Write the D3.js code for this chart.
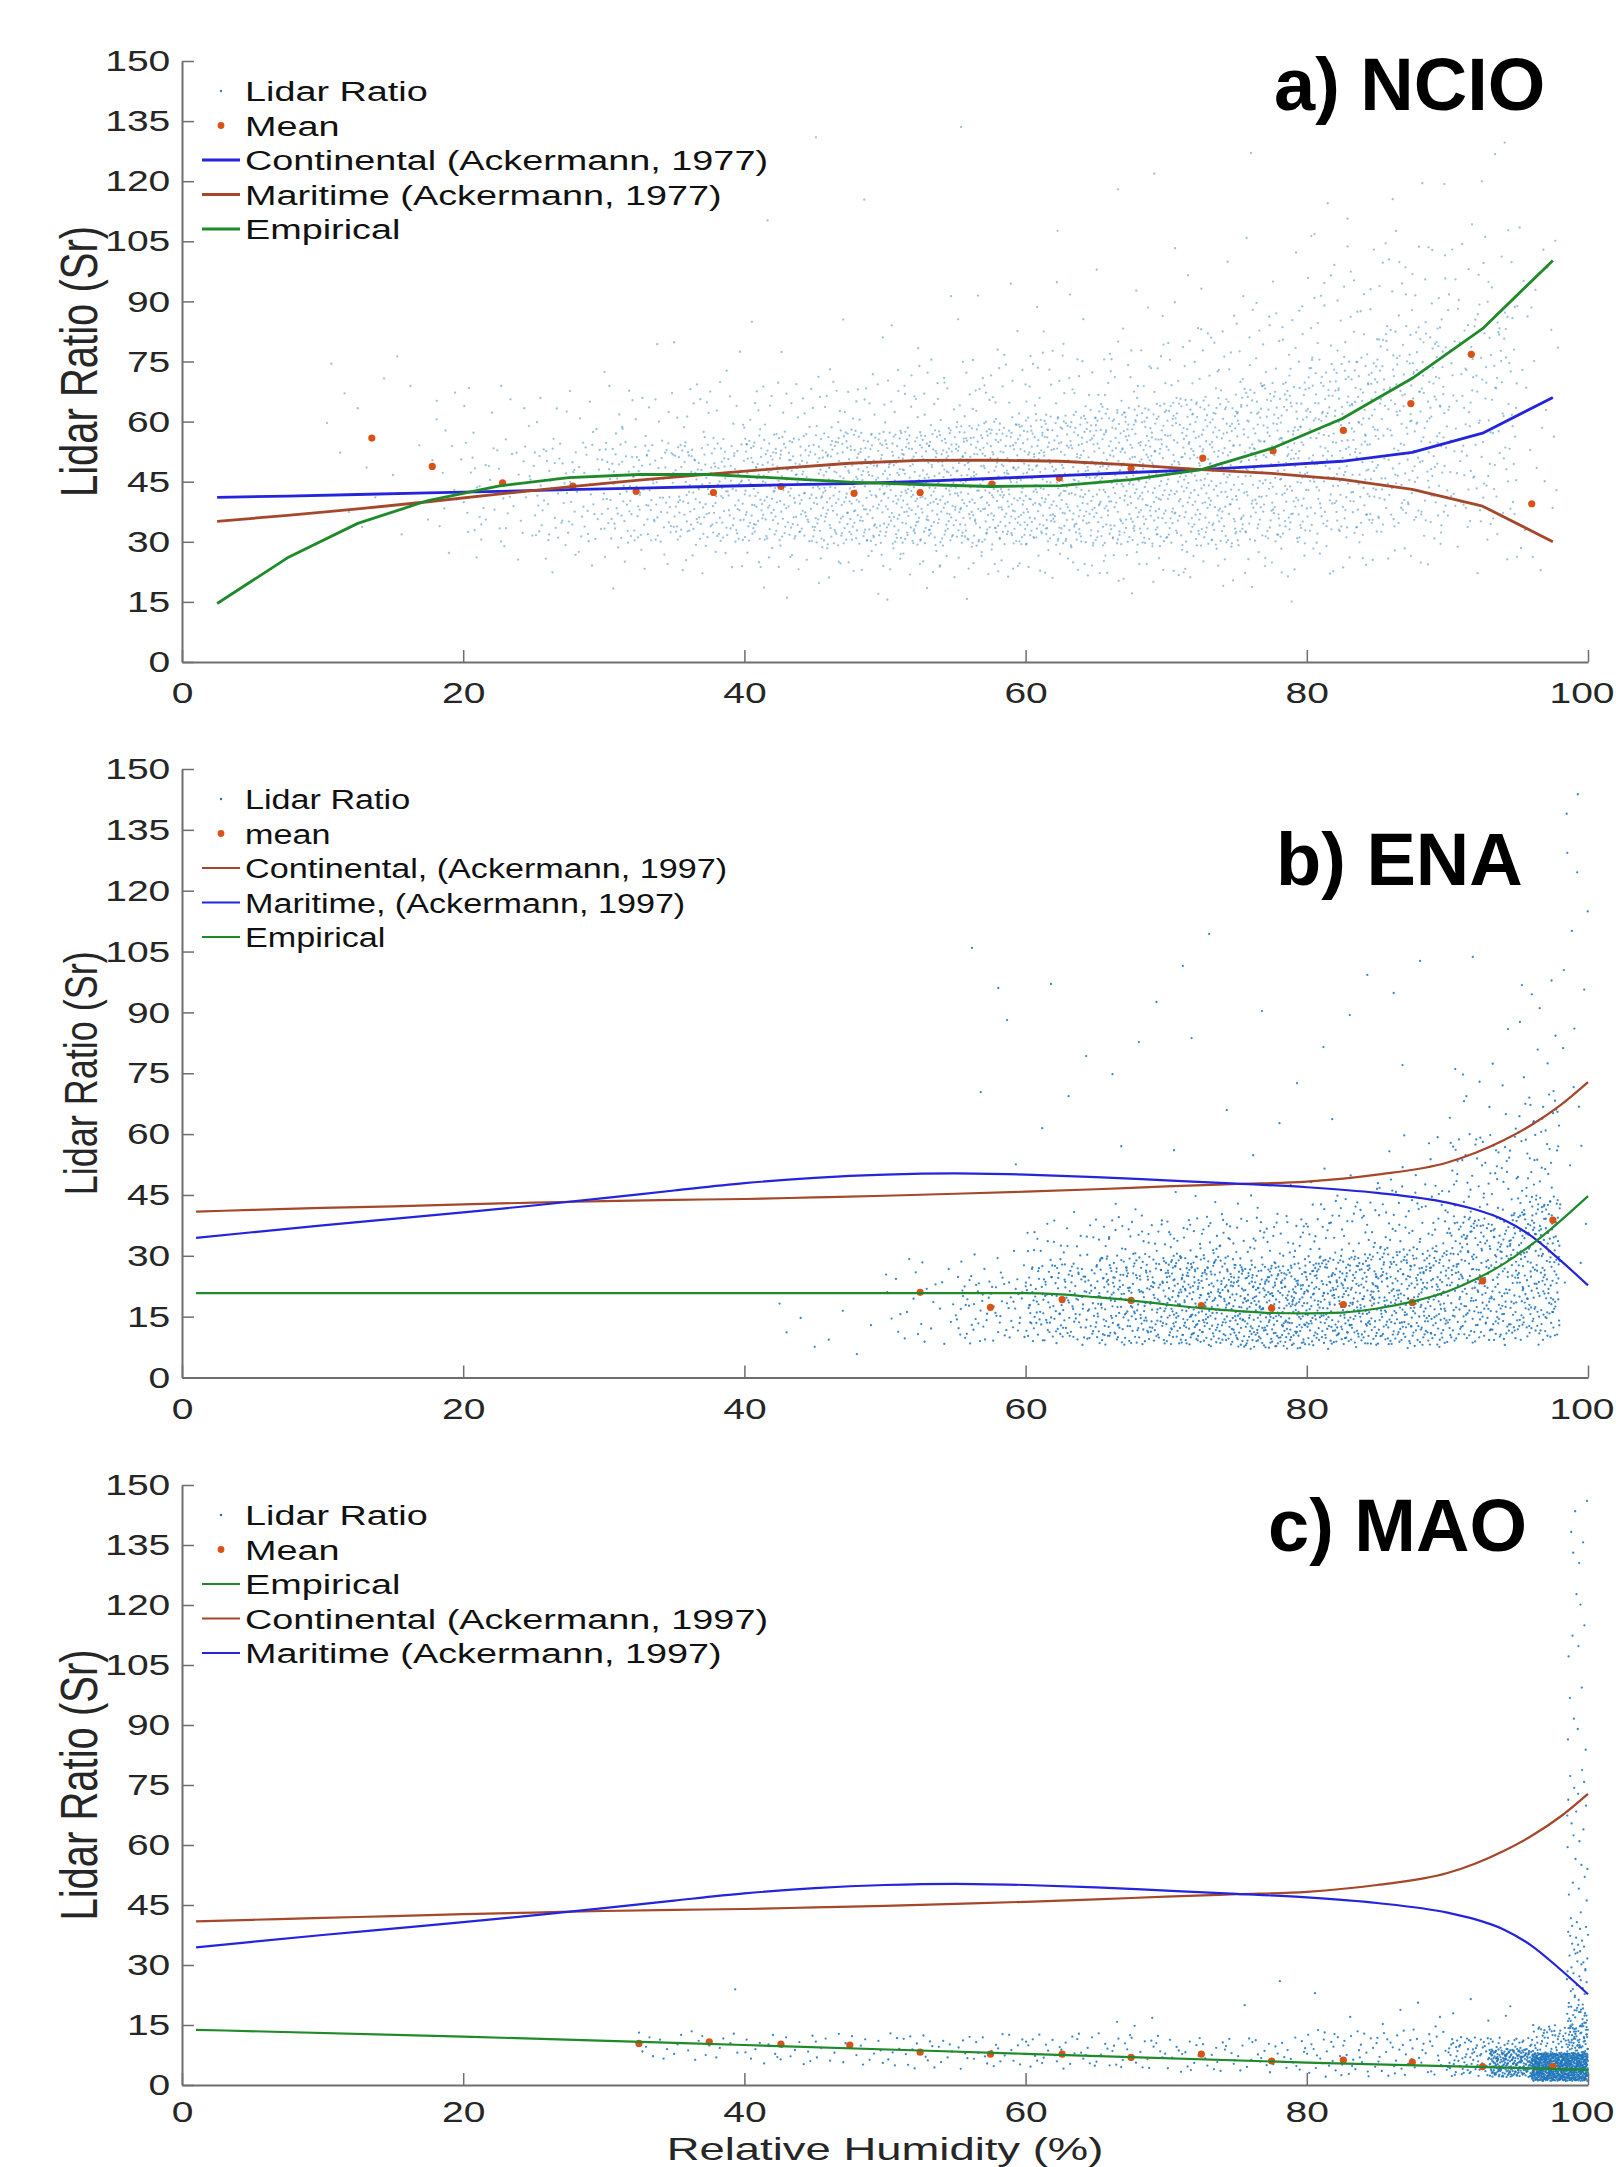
<!DOCTYPE html>
<html>
<head>
	<meta charset="utf-8" />
	<title>Lidar ratio vs relative humidity</title>
	<script src="https://d3js.org/d3.v7.min.js"></script>
	<style>
		body { margin: 0; background: #fff; }
		svg text { font-family: "Liberation Sans", Arial, Helvetica, sans-serif; }
	</style>
</head>
<body>
<svg id="chart"></svg>

<script>
/* axes */
var rhTicks = [0, 20, 40, 60, 80, 100];
var lrTicks = [0, 15, 30, 45, 60, 75, 90, 105, 120, 135, 150];

/* a) NCIO */
var ncioRh          = [2.5, 7.5, 12.5, 17.5, 22.5, 27.5, 32.5, 37.5, 42.5, 47.5, 52.5, 57.5, 62.5, 67.5, 72.5, 77.5, 82.5, 87.5, 92.5, 97.5];
var ncioContinental = [41.1, 41.4, 41.8, 42.2, 42.6, 43.0, 43.4, 43.8, 44.2, 44.5, 45.1, 45.8, 46.5, 47.3, 48.0, 49.0, 50.1, 52.3, 57.1, 66.0];
var ncioMaritime    = [35.1, 36.6, 38.2, 40.0, 41.9, 43.7, 45.4, 46.9, 48.3, 49.6, 50.3, 50.4, 50.1, 49.2, 48.0, 47.1, 45.6, 43.1, 38.9, 30.0];
var ncioEmpirical   = [14.6, 26.0, 34.6, 40.3, 43.9, 46.0, 46.8, 46.8, 45.9, 44.9, 44.3, 43.8, 44.0, 45.5, 48.0, 53.3, 60.7, 70.8, 83.2, 100.2];
var ncioMeanRh = [13.5, 17.8, 22.8, 27.8, 32.3, 37.8, 42.6, 47.8, 52.5, 57.6, 62.4, 67.5, 72.6, 77.6, 82.6, 87.4, 91.7, 96.0];
var ncioMean   = [55.9, 48.8, 44.7, 43.9, 42.6, 42.3, 43.8, 42.1, 42.3, 44.4, 45.9, 48.3, 50.9, 52.7, 57.8, 64.5, 76.8, 39.5];
// point cloud read as density bands: [rh from, rh to, lidar ratio from, to, number of points]
var ncioCloud = [
	[10, 20, 30, 80, 20], [18, 25, 25, 70, 35], [20, 25, 30, 55, 30],
	[25, 30, 30, 55, 60],  [25, 30, 22, 68, 35],
	[30, 35, 30, 55, 90],  [30, 35, 22, 70, 45],  [30, 35, 18, 80, 10],
	[35, 40, 30, 55, 120], [35, 40, 22, 70, 55],  [35, 40, 18, 82, 12],
	[40, 45, 30, 57, 150], [40, 45, 22, 70, 65],  [40, 45, 16, 85, 15],
	[45, 50, 29, 58, 180], [45, 50, 21, 72, 75],  [45, 50, 16, 88, 15],
	[50, 55, 29, 58, 200], [50, 55, 21, 74, 80],  [50, 55, 15, 92, 18],
	[55, 60, 29, 60, 210], [55, 60, 21, 76, 85],  [55, 60, 15, 95, 20],
	[60, 65, 29, 62, 210], [60, 65, 21, 78, 85],  [60, 65, 15, 98, 20],
	[65, 70, 29, 64, 210], [65, 70, 20, 80, 85],  [65, 70, 15, 100, 22],
	[70, 75, 29, 66, 200], [70, 75, 20, 84, 85],  [70, 75, 14, 105, 22],
	[75, 80, 30, 70, 190], [75, 80, 20, 90, 80],  [75, 80, 14, 112, 22],
	[80, 85, 32, 76, 170], [80, 85, 22, 98, 80],  [80, 85, 16, 120, 22],
	[85, 90, 34, 84, 150], [85, 90, 24, 105, 70], [85, 90, 18, 125, 20],
	[90, 95, 35, 90, 90],  [90, 95, 25, 110, 50], [90, 95, 20, 130, 15],
	[95, 98, 20, 110, 25], [40, 95, 100, 135, 12]
];
var ncioLegend = ["Lidar Ratio", "Mean", "Continental (Ackermann, 1977)", "Maritime (Ackermann, 1977)", "Empirical"];
var ncioLegendKeys = ["cloud", "mean", "continental", "maritime", "empirical"];

/* Ackermann 1997 curves, used in b) and c) */
var ackRh           = [1, 5, 10, 15, 20, 25, 30, 35, 40, 45, 50, 55, 60, 65, 70, 75, 80, 85, 90, 92, 94, 96, 98, 100];
var ackContinental  = [40.9, 41.3, 41.8, 42.2, 42.7, 43.1, 43.5, 43.8, 44.0, 44.4, 44.8, 45.3, 45.8, 46.4, 47.1, 47.7, 48.3, 50.0, 53.0, 55.4, 58.5, 62.3, 67.0, 72.8];
var ackMaritime     = [34.4, 35.8, 37.5, 39.1, 40.7, 42.4, 44.2, 46.1, 47.9, 49.2, 50.0, 50.3, 50.0, 49.4, 48.6, 47.8, 46.9, 45.5, 43.1, 41.4, 38.9, 34.8, 29.0, 22.7];

/* b) ENA */
var enaEmpRh     = [1, 10, 20, 30, 40, 50, 58, 60, 62.5, 65, 67.5, 70, 72.5, 75, 77.5, 80, 82.5, 85, 87.5, 90, 92, 94, 96, 98, 100];
var enaEmpirical = [20.8, 20.8, 20.8, 20.8, 20.8, 20.8, 20.8, 20.8, 20.5, 19.8, 19.0, 18.0, 17.1, 16.4, 15.9, 15.8, 16.0, 17.0, 18.7, 21.2, 24.2, 28.0, 32.8, 38.5, 44.7];
var enaMeanRh = [52.5, 57.5, 62.6, 67.5, 72.5, 77.5, 82.6, 87.5, 92.5, 97.5];
var enaMean   = [21.0, 17.3, 19.2, 19.0, 17.7, 17.1, 18.0, 18.5, 23.8, 38.8];
var enaCloud = [
	[42, 50, 4, 20, 8],   [50, 55, 8, 30, 25],
	[55, 60, 9, 25, 50],  [55, 60, 8, 32, 25],
	[60, 65, 9, 28, 100], [60, 65, 8, 38, 60],  [60, 65, 8, 42, 15],
	[65, 70, 8, 30, 150], [65, 70, 8, 40, 80],  [65, 70, 8, 45, 20],
	[70, 75, 8, 30, 200], [70, 75, 8, 40, 100], [70, 75, 7, 47, 25],
	[75, 80, 7, 28, 220], [75, 80, 7, 40, 100], [75, 80, 7, 48, 25],
	[80, 85, 8, 30, 210], [80, 85, 7, 44, 100], [80, 85, 7, 52, 25],
	[85, 90, 8, 32, 200], [85, 90, 7, 48, 100], [85, 90, 7, 60, 30],
	[90, 95, 9, 40, 200], [90, 95, 8, 60, 120], [90, 95, 8, 80, 35],
	[95, 98, 10, 45, 150], [95, 98, 8, 70, 80], [95, 98, 8, 100, 30],
	[98, 100, 20, 150, 18], [55, 95, 50, 110, 35]
];
var enaLegend = ["Lidar Ratio", "mean", "Continental, (Ackermann, 1997)", "Maritime, (Ackermann, 1997)", "Empirical"];
var enaLegendKeys = ["cloud", "mean", "continental", "maritime", "empirical"];

/* c) MAO */
var maoEmpRh     = [1, 20, 40, 60, 80, 100];
var maoEmpirical = [13.8, 12.1, 10.0, 7.8, 5.6, 3.8];
var maoMeanRh = [32.5, 37.5, 42.6, 47.5, 52.5, 57.5, 62.6, 67.5, 72.5, 77.5, 82.6, 87.5, 92.5, 97.5];
var maoMean   = [10.4, 10.8, 10.2, 10.0, 8.2, 7.7, 7.7, 6.9, 7.7, 6.0, 6.2, 5.7, 4.6, 4.6];
var maoCloud = [
	[32, 40, 6, 14, 25], [39, 40, 22, 24, 1], [40, 50, 5, 13, 40],
	[50, 60, 4, 13, 50], [60, 70, 4, 13, 60], [65, 70, 14, 17, 3],
	[70, 80, 3, 12, 60], [75, 85, 17, 26, 4], [80, 90, 2, 14, 90],
	[85, 95, 14, 22, 10], [90, 96, 2, 12, 140], [93, 96, 2, 9, 180],
	[96, 100, 1, 8, 700], [96, 100, 8, 15, 80], [98.5, 100, 8, 20, 60],
	[98.5, 100, 20, 40, 40], [98.5, 100, 40, 80, 25], [98.5, 100, 80, 150, 18]
];
var maoLegend = ["Lidar Ratio", "Mean", "Empirical", "Continental (Ackermann, 1997)", "Maritime (Ackermann, 1997)"];
var maoLegendKeys = ["cloud", "mean", "empirical", "continental", "maritime"];

/* styles */
var BLUE = "#2424dc", BROWN = "#a4472a", GREEN = "#1f8a2a", ORANGE = "#d95319", DOTS = "#1a72b8";

var x = d3.scaleLinear().domain([0, 100]).range([182, 1588]);

var svg = d3.select("#chart")
	.attr("width", 1616)
	.attr("height", 2167);

// low discrepancy sequence, only to spread the points of a band evenly
function halton(i, b) {
	var f = 1, r = 0;
	while (i > 0) {
		f /= b;
		r += f * (i % b);
		i = Math.floor(i / b);
	}
	return r;
}

function cloudPoints(bands) {
	var pts = [], seed = 0;
	bands.forEach(function(b) {
		for (var k = 0; k < b[4]; k++) {
			seed++;
			pts.push([ b[0] + (b[1] - b[0]) * halton(seed, 2), b[2] + (b[3] - b[2]) * halton(seed, 3) ]);
		}
	});
	return pts;
}

var panels = [
	{
		title: "a) NCIO", cloud: ncioCloud, meanRh: ncioMeanRh, mean: ncioMean,
		lines: [
			{ key: "continental", rh: ncioRh, v: ncioContinental },
			{ key: "maritime",    rh: ncioRh, v: ncioMaritime },
			{ key: "empirical",   rh: ncioRh, v: ncioEmpirical }
		],
		legend: ncioLegend, legendKeys: ncioLegendKeys,
		colors: { continental: BLUE, maritime: BROWN, empirical: GREEN },
		top: 61, bottom: 662, titleX: 1274, titleY: 110, ylabSize: 40, xPad: 20,
		stretch: 1.35, lineWidth: 2.8, dotFill: "#3583b8", dotOpacity: 0.5, curve: d3.curveLinear
	},
	{
		title: "b) ENA", cloud: enaCloud, meanRh: enaMeanRh, mean: enaMean,
		lines: [
			{ key: "continental", rh: ackRh, v: ackContinental },
			{ key: "maritime",    rh: ackRh, v: ackMaritime },
			{ key: "empirical",   rh: enaEmpRh, v: enaEmpirical }
		],
		legend: enaLegend, legendKeys: enaLegendKeys,
		colors: { continental: BROWN, maritime: BLUE, empirical: GREEN },
		top: 769, bottom: 1377.5, titleX: 1276, titleY: 885, ylabSize: 36, xPad: 20,
		stretch: 1.22, lineWidth: 2.2, dotFill: DOTS, dotOpacity: 0.85, curve: d3.curveMonotoneX
	},
	{
		title: "c) MAO", cloud: maoCloud, meanRh: maoMeanRh, mean: maoMean,
		lines: [
			{ key: "continental", rh: ackRh, v: ackContinental },
			{ key: "maritime",    rh: ackRh, v: ackMaritime },
			{ key: "empirical",   rh: maoEmpRh, v: maoEmpirical }
		],
		legend: maoLegend, legendKeys: maoLegendKeys,
		colors: { continental: BROWN, maritime: BLUE, empirical: GREEN },
		top: 1485, bottom: 2085, titleX: 1268, titleY: 1551, ylabSize: 40, xPad: 16,
		stretch: 1.35, lineWidth: 2.2, dotFill: DOTS, dotOpacity: 0.85, curve: d3.curveMonotoneX,
		xlabel: "Relative Humidity (%)"
	}
];

function drawPanel(p) {
	var y = d3.scaleLinear().domain([0, 150]).range([p.bottom, p.top]);
	var g = svg.append("g");

	/* scatter */
	g.append("g").selectAll("circle")
		.data(cloudPoints(p.cloud))
		.join("circle")
			.attr("cx", function(d) { return x(d[0]); })
			.attr("cy", function(d) { return y(d[1]); })
			.attr("r", 1.15)
			.attr("fill", p.dotFill)
			.attr("fill-opacity", p.dotOpacity);

	/* bin means */
	g.append("g").selectAll("circle")
		.data(d3.zip(p.meanRh, p.mean))
		.join("circle")
			.attr("cx", function(d) { return x(d[0]); })
			.attr("cy", function(d) { return y(d[1]); })
			.attr("r", 3.6)
			.attr("fill", ORANGE);

	/* model curves */
	var line = d3.line()
		.curve(p.curve)
		.x(function(d) { return x(d[0]); })
		.y(function(d) { return y(d[1]); });

	p.lines.forEach(function(s) {
		g.append("path")
			.datum(d3.zip(s.rh, s.v))
			.attr("d", line)
			.attr("fill", "none")
			.attr("stroke", p.colors[s.key])
			.attr("stroke-width", p.lineWidth)
			.attr("stroke-linejoin", "round");
	});

	/* axes */
	var ya = g.append("g")
		.attr("transform", "translate(" + x(0) + ",0)")
		.call(d3.axisLeft(y).tickValues(lrTicks).tickSizeInner(-12).tickSizeOuter(0).tickPadding(9));
	var xa = g.append("g")
		.attr("transform", "translate(0," + y(0) + ")")
		.call(d3.axisBottom(x).tickValues(rhTicks).tickSizeInner(-12).tickSizeOuter(0).tickPadding(p.xPad));

	[ya, xa].forEach(function(a) {
		a.attr("font-family", null).attr("font-size", 30);
		a.select(".domain").attr("stroke", "#6e6e6e").attr("stroke-width", 2);
		a.selectAll(".tick line").attr("stroke", "#6e6e6e").attr("stroke-width", 1.5);
		a.selectAll(".tick text").attr("fill", "#262626").attr("transform", "scale(1.3,1)");
	});
	// last label sits on the page edge: keep it inside
	xa.selectAll(".tick text")
		.filter(function(d) { return d == 100; })
		.attr("text-anchor", "end")
		.attr("x", (1614 - x(100)) / 1.3);

	/* y label */
	g.append("text")
		.attr("transform", "translate(97," + ((p.top + p.bottom) / 2) + ") scale(1.3,1) rotate(-90)")
		.attr("text-anchor", "middle")
		.attr("font-size", p.ylabSize)
		.attr("fill", "#262626")
		.text("Lidar Ratio (Sr)");

	if (p.xlabel) {
		g.append("text")
			.attr("transform", "translate(" + ((x(0) + x(100)) / 2) + ",2160) scale(1.42,1)")
			.attr("text-anchor", "middle")
			.attr("font-size", 32)
			.attr("fill", "#262626")
			.text(p.xlabel);
	}

	/* title */
	g.append("text")
		.attr("x", p.titleX)
		.attr("y", p.titleY)
		.attr("font-size", 74)
		.attr("font-weight", "bold")
		.attr("fill", "#000")
		.text(p.title);

	/* legend */
	p.legend.forEach(function(label, k) {
		var key = p.legendKeys[k],
		    cy  = p.top + 30 + 34.5 * k;

		if (key == "cloud") {
			g.append("circle").attr("cx", 221).attr("cy", cy).attr("r", 1.2).attr("fill", p.dotFill);
		} else if (key == "mean") {
			g.append("circle").attr("cx", 221).attr("cy", cy).attr("r", 3.4).attr("fill", ORANGE);
		} else {
			g.append("line")
				.attr("x1", 202).attr("x2", 240)
				.attr("y1", cy).attr("y2", cy)
				.attr("stroke", p.colors[key])
				.attr("stroke-width", p.lineWidth);
		}
		g.append("text")
			.attr("transform", "translate(245," + (cy + 10) + ") scale(" + p.stretch + ",1)")
			.attr("font-size", 28)
			.attr("fill", "#111")
			.text(label);
	});
}

panels.forEach(drawPanel);
</script>
</body>
</html>
